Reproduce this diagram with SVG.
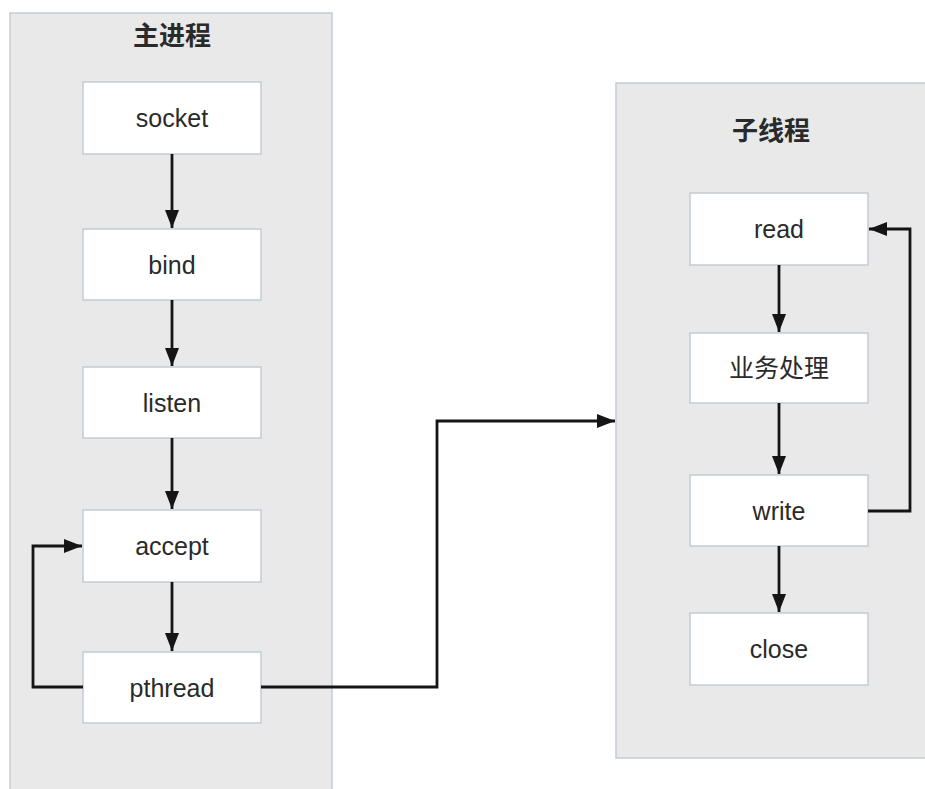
<svg xmlns="http://www.w3.org/2000/svg" width="925" height="789" viewBox="0 0 925 789">
<style>
.container{fill:#e9e9e9;stroke:#c3ccd6;stroke-width:1.5}
.node rect{fill:#ffffff;stroke:#c3ccd6;stroke-width:1.5}
.label{font-family:"Liberation Sans","Noto Sans CJK SC",sans-serif;font-size:25px;fill:#2a2a2a;text-anchor:middle;dominant-baseline:central}
.title{font-family:"Liberation Sans","Noto Sans CJK SC",sans-serif;font-size:26px;font-weight:bold;fill:#2a2a2a;text-anchor:middle;dominant-baseline:central}
.edge{fill:none;stroke:#151515;stroke-width:2.8}
</style>
<defs>
<marker id="arrow" viewBox="0 0 18 14" refX="18" refY="7" markerWidth="18" markerHeight="14" markerUnits="userSpaceOnUse" orient="auto">
<path d="M0,0 L18,7 L0,14 Z" fill="#151515"/>
</marker>
</defs>
<rect width="925" height="789" fill="#ffffff"/>
<g id="main-process">
<rect class="container" x="10" y="13" width="322" height="790"/>
<text class="title" x="172" y="36">主进程</text>
</g>
<g id="child-thread">
<rect class="container" x="616" y="83" width="330" height="675"/>
<text class="title" x="771" y="131">子线程</text>
</g>
<g id="socket" class="node"><rect x="83" y="82" width="178" height="72"/><text class="label" x="172" y="118">socket</text></g>
<g id="bind" class="node"><rect x="83" y="229" width="178" height="71"/><text class="label" x="172" y="265">bind</text></g>
<g id="listen" class="node"><rect x="83" y="367" width="178" height="71"/><text class="label" x="172" y="403">listen</text></g>
<g id="accept" class="node"><rect x="83" y="510" width="178" height="72"/><text class="label" x="172" y="546">accept</text></g>
<g id="pthread" class="node"><rect x="83" y="652" width="178" height="71"/><text class="label" x="172" y="688">pthread</text></g>
<g id="read" class="node"><rect x="690" y="193" width="178" height="72"/><text class="label" x="779" y="229">read</text></g>
<g id="business" class="node"><rect x="690" y="333" width="178" height="70"/><text class="label" x="779" y="368">业务处理</text></g>
<g id="write" class="node"><rect x="690" y="475" width="178" height="71"/><text class="label" x="779" y="511">write</text></g>
<g id="close" class="node"><rect x="690" y="613" width="178" height="72"/><text class="label" x="779" y="649">close</text></g>
<g id="connectors">
<path class="edge" d="M172,154 L172,228" marker-end="url(#arrow)"/>
<path class="edge" d="M172,300 L172,366" marker-end="url(#arrow)"/>
<path class="edge" d="M172,438 L172,509" marker-end="url(#arrow)"/>
<path class="edge" d="M172,582 L172,651" marker-end="url(#arrow)"/>
<path class="edge" d="M83,687 L33,687 L33,546 L82,546" marker-end="url(#arrow)"/>
<path class="edge" d="M261,687 L437,687 L437,421 L615,421" marker-end="url(#arrow)"/>
<path class="edge" d="M779,265 L779,332" marker-end="url(#arrow)"/>
<path class="edge" d="M779,403 L779,474" marker-end="url(#arrow)"/>
<path class="edge" d="M779,546 L779,612" marker-end="url(#arrow)"/>
<path class="edge" d="M868,511 L910,511 L910,229 L869,229" marker-end="url(#arrow)"/>
</g>
</svg>
